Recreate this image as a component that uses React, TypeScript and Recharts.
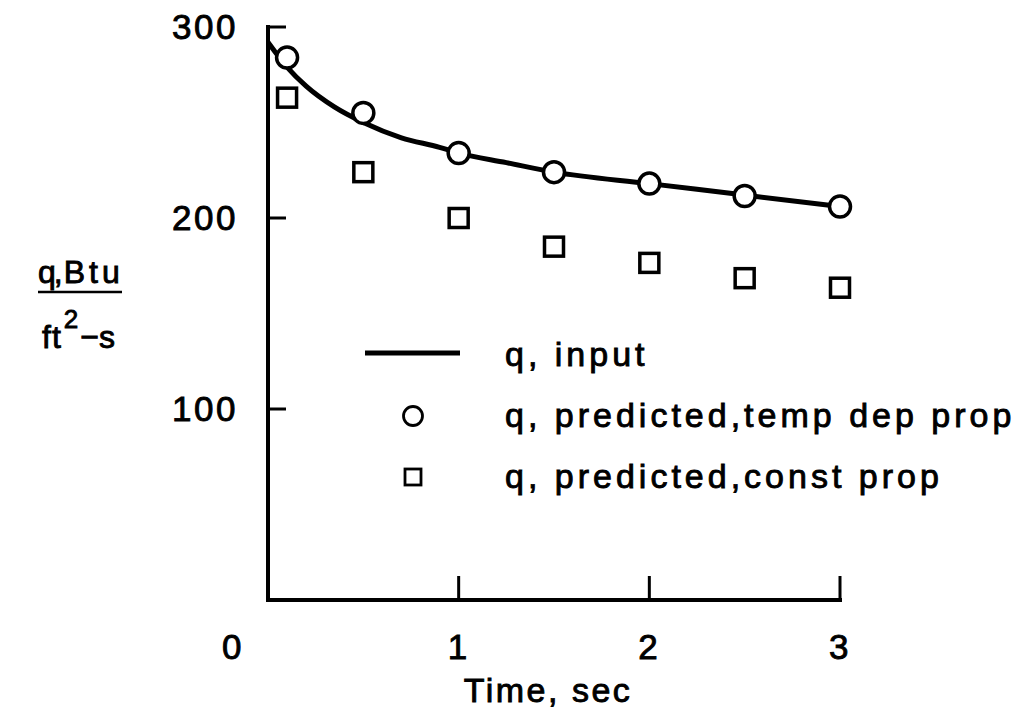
import { ComposedChart, Line, Scatter, XAxis, YAxis, Legend } from 'recharts'

// q, input (solid curve)
const TIME_INPUT = [0, 0.1, 0.2, 0.35, 0.5, 0.7, 0.9, 1.0, 1.25, 1.5, 2.0, 2.5, 3.0]
const Q_INPUT = [292, 279, 269, 258, 250, 242, 237, 234, 229, 224, 218, 212, 206]

// predicted points
const TIME_PRED = [0.1, 0.5, 1, 1.5, 2, 2.5, 3]
const Q_TEMP_DEP = [284, 255, 234, 224, 218, 211.5, 206]
const Q_CONST = [263, 224, 200, 185, 176.5, 168.5, 163.5]

const X_TICKS = [0, 1, 2, 3]
const Y_TICKS = [100, 200, 300]
const SERIES_NAMES = ['q, input', 'q, predicted,temp dep prop', 'q, predicted,const prop']

const FONT = '"Liberation Sans", Arial, Helvetica, sans-serif'
const TEXT = { fontFamily: FONT, fontSize: 34, fill: '#000', stroke: '#000', strokeWidth: 0.9 }

const lineData = TIME_INPUT.map((t, i) => ({ t, q: Q_INPUT[i] }))
const tempData = TIME_PRED.map((t, i) => ({ t, q: Q_TEMP_DEP[i] }))
const constData = TIME_PRED.map((t, i) => ({ t, q: Q_CONST[i] }))

function XTick({ x, y, payload }: any) {
  const v = payload.value
  return (
    <g>
      {v !== 0 && <line x1={x} y1={y} x2={x} y2={y - 24} stroke="#000" strokeWidth={3} />}
      <text x={v === 0 ? x - 35 : x} y={y + 59} textAnchor="middle" letterSpacing={2.5} {...TEXT} fontSize={35}>
        {v}
      </text>
    </g>
  )
}

function YTick({ x, y, payload }: any) {
  return (
    <g>
      <line x1={x} y1={y} x2={x + 18} y2={y} stroke="#000" strokeWidth={3} />
      <text x={x - 30} y={y + 12} textAnchor="end" letterSpacing={2.5} {...TEXT} fontSize={35}>
        {payload.value}
      </text>
    </g>
  )
}

function XTitle() {
  return (
    <text x={548} y={702} textAnchor="middle" letterSpacing={2.5} {...TEXT}>
      Time, sec
    </text>
  )
}

function YTitle() {
  return (
    <g>
      <text x={38} y={283} {...TEXT} fontSize={32}>
        <tspan letterSpacing={-2}>q,</tspan>
        <tspan dx={3} letterSpacing={4}>Btu</tspan>
      </text>
      <line x1={38} y1={292} x2={122} y2={292} stroke="#000" strokeWidth={2.5} />
      <text x={42} y={348} {...TEXT} fontSize={32}>
        <tspan letterSpacing={1}>ft</tspan>
        <tspan dx={2} dy={-20} fontSize={26}>2</tspan>
        <tspan dx={2} dy={20}>−s</tspan>
      </text>
    </g>
  )
}

function LegendBox() {
  return (
    <svg width={690} height={190}>
      <line x1={25} y1={33} x2={120} y2={33} stroke="#000" strokeWidth={5} />
      <circle cx={73} cy={96} r={9.5} fill="#fff" stroke="#000" strokeWidth={2.8} />
      <rect x={65} y={149} width={16} height={16} fill="#fff" stroke="#000" strokeWidth={2.8} />
      {SERIES_NAMES.map((name, i) => (
        <text key={name} x={165} y={46 + i * 61} letterSpacing={4} {...TEXT}>
          {name}
        </text>
      ))}
    </svg>
  )
}

const circleShape = (p: any) => (
  <circle cx={p.cx} cy={p.cy} r={10.5} fill="#fff" stroke="#000" strokeWidth={3.5} />
)
const squareShape = (p: any) => (
  <rect x={p.cx - 9.5} y={p.cy - 9.5} width={19} height={19} fill="#fff" stroke="#000" strokeWidth={3.5} />
)

export default function App() {
  return (
    <div style={{ position: 'absolute', left: 0, top: 0, background: '#fff' }}>
      <ComposedChart width={1031} height={717} margin={{ top: 27, right: 191, bottom: 57, left: 188 }}>
        <XAxis
          dataKey="t"
          type="number"
          domain={[0, 3]}
          ticks={X_TICKS}
          interval={0}
          height={60}
          tickSize={0}
          tickMargin={0}
          tickLine={false}
          axisLine={{ stroke: '#000', strokeWidth: 4, strokeLinecap: 'square' }}
          tick={<XTick />}
          label={<XTitle />}
        />
        <YAxis
          dataKey="q"
          type="number"
          domain={[0, 300]}
          ticks={Y_TICKS}
          interval={0}
          width={80}
          tickSize={0}
          tickMargin={0}
          tickLine={false}
          axisLine={{ stroke: '#000', strokeWidth: 4, strokeLinecap: 'square' }}
          tick={<YTick />}
          label={<YTitle />}
        />
        <Legend
          layout="horizontal"
          verticalAlign="middle"
          align="center"
          content={<LegendBox />}
          wrapperStyle={{ left: 340, top: 320, width: 690, height: 190 }}
        />
        <Line
          data={lineData}
          dataKey="q"
          name={SERIES_NAMES[0]}
          type="monotone"
          stroke="#000"
          strokeWidth={5}
          dot={false}
          isAnimationActive={false}
        />
        <Scatter data={tempData} dataKey="q" name={SERIES_NAMES[1]} shape={circleShape} isAnimationActive={false} />
        <Scatter data={constData} dataKey="q" name={SERIES_NAMES[2]} shape={squareShape} isAnimationActive={false} />
      </ComposedChart>
    </div>
  )
}
